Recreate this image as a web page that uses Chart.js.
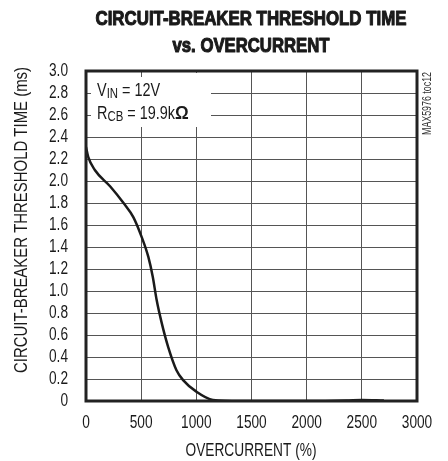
<!DOCTYPE html>
<html>
<head>
<meta charset="utf-8">
<script src="https://cdn.jsdelivr.net/npm/chart.js@4"></script>
<style>
  html, body { margin: 0; padding: 0; background: #fff; }
  #wrap { width: 448px; height: 461px; position: relative; }
</style>
</head>
<body>
<div id="wrap"><canvas id="chart" width="448" height="461"></canvas></div>
<script>
// datos
const overcurrent = [0, 20, 80, 220, 340, 430, 505, 565, 605, 640, 686, 745, 820, 880, 1000, 1150, 1400, 2000, 2360, 2500, 2700];
const thresholdTime = [2.31, 2.22, 2.10, 1.95, 1.80, 1.67, 1.49, 1.31, 1.13, 0.92, 0.71, 0.49, 0.28, 0.19, 0.085, 0.01, 0, 0, 0.005, 0.01, 0.005];
const xTicks = [0, 500, 1000, 1500, 2000, 2500, 3000];
const yMax = 3.0;

const points = overcurrent.map((x, i) => ({ x: x, y: thresholdTime[i] }));

const FONT = "'Liberation Sans', Arial, sans-serif";
const NARROW = 0.76; // escala horizontal para simular fuente condensada

// texto condensado centrado (o alineado) en x,y
function narrowText(c, txt, x, y, font, sx, align, heavy) {
  c.save();
  c.font = font;
  c.textBaseline = 'middle';
  c.textAlign = 'left';
  const w = c.measureText(txt).width * sx;
  let x0 = x;
  if (align === 'center') x0 = x - w / 2;
  if (align === 'right') x0 = x - w;
  c.translate(x0, y);
  c.scale(sx, 1);
  c.fillText(txt, 0, 0);
  if (heavy) {
    c.strokeStyle = c.fillStyle;
    c.lineWidth = heavy;
    c.lineJoin = 'round';
    c.strokeText(txt, 0, 0);
  }
  c.restore();
  return w;
}

// texto ajustado a un ancho fijo
function fitText(c, txt, cx, cy, font, width, heavy) {
  c.save();
  c.font = font;
  const sx = width / c.measureText(txt).width;
  c.restore();
  narrowText(c, txt, cx, cy, font, sx, 'center', heavy);
}

const extras = {
  id: 'extras',
  beforeDatasetsDraw(chart) {
    const c = chart.ctx;
    const a = chart.chartArea;
    const ys = chart.scales.y;
    const xs = chart.scales.x;
    // caja blanca de la anotacion
    c.save();
    c.fillStyle = '#fff';
    c.fillRect(a.left, a.top + 2, 125, 54);
    c.strokeStyle = '#555';
    c.lineWidth = 1;
    [2.8, 2.6].forEach(v => {
      const py = Math.round(ys.getPixelForValue(v)) + 0.5;
      c.beginPath(); c.moveTo(a.left, py); c.lineTo(a.left + 5, py); c.stroke();
    });
    const px = Math.round(xs.getPixelForValue(500)) + 0.5;
    c.beginPath(); c.moveTo(px, a.top); c.lineTo(px, a.top + 6); c.stroke();
    c.restore();
  },
  afterDraw(chart) {
    const c = chart.ctx;
    const a = chart.chartArea;
    const xs = chart.scales.x;
    const ys = chart.scales.y;
    c.save();
    // borde del area
    c.strokeStyle = '#222';
    c.lineWidth = 3;
    c.strokeRect(a.left, a.top, a.right - a.left, a.bottom - a.top);

    c.fillStyle = '#1a1a1a';

    // etiquetas de los ejes
    const tickFont = "18px " + FONT;
    xs.ticks.forEach(t => {
      narrowText(c, String(t.value), xs.getPixelForValue(t.value), 423, tickFont, NARROW, 'center');
    });
    ys.ticks.forEach(t => {
      const lbl = Math.abs(t.value) < 1e-9 ? '0' : t.value.toFixed(1);
      narrowText(c, lbl, 68, ys.getPixelForValue(t.value), tickFont, NARROW, 'right');
    });

    // titulo
    fitText(c, 'CIRCUIT-BREAKER THRESHOLD TIME', 251, 19, "bold 20px " + FONT, 311, 1.1);
    fitText(c, 'vs. OVERCURRENT', 251, 46, "bold 20px " + FONT, 157, 1.1);

    // titulo eje x
    fitText(c, 'OVERCURRENT (%)', 251, 451, "18px " + FONT, 131);

    // titulo eje y
    c.save();
    c.translate(22, 220);
    c.rotate(-Math.PI / 2);
    fitText(c, 'CIRCUIT-BREAKER THRESHOLD TIME (ms)', 0, 0, "18px " + FONT, 306);
    c.restore();

    // texto lateral
    c.save();
    c.translate(428, 103.5);
    c.rotate(-Math.PI / 2);
    c.fillStyle = '#333';
    fitText(c, 'MAX5976 toc12', 0, 0, "12px " + FONT, 63);
    c.restore();

    // anotacion V_IN y R_CB
    let x = a.left + 11;
    let y = a.top + 20;
    const big = "19px " + FONT;
    const sub = "15px " + FONT;
    x += narrowText(c, 'V', x, y, big, NARROW, 'left');
    x += narrowText(c, 'IN', x, y + 3, sub, NARROW, 'left');
    narrowText(c, ' = 12V', x, y, big, NARROW, 'left');

    x = a.left + 11;
    y = a.top + 43;
    x += narrowText(c, 'R', x, y, big, NARROW, 'left');
    x += narrowText(c, 'CB', x, y + 3, sub, NARROW, 'left');
    x += narrowText(c, ' = 19.9k', x, y, big, NARROW, 'left');
    narrowText(c, '\u03A9', x, y, "bold 19px " + FONT, 0.9, 'left');
    c.restore();
  }
};

const chart = new Chart(document.getElementById('chart').getContext('2d'), {
  type: 'scatter',
  data: {
    datasets: [{
      data: points,
      showLine: true,
      borderColor: '#1a1a1a',
      borderWidth: 2.5,
      pointRadius: 0,
      cubicInterpolationMode: 'monotone',
      fill: false
    }]
  },
  options: {
    responsive: false,
    animation: false,
    layout: { padding: { left: 0, top: 71, right: 31, bottom: 0 } },
    plugins: {
      legend: { display: false },
      tooltip: { enabled: false }
    },
    scales: {
      x: {
        type: 'linear',
        min: 0,
        max: 3000,
        afterFit: s => { s.height = 60; },
        afterBuildTicks: s => { s.ticks = xTicks.map(v => ({ value: v })); },
        grid: { color: '#555', lineWidth: 1, drawTicks: false },
        border: { display: false },
        ticks: { display: false }
      },
      y: {
        min: 0,
        max: yMax,
        afterFit: s => { s.width = 86; },
        grid: { color: '#555', lineWidth: 1, drawTicks: false },
        border: { display: false },
        ticks: { display: false, stepSize: 0.2 }
      }
    }
  },
  plugins: [extras]
});
</script>
</body>
</html>
